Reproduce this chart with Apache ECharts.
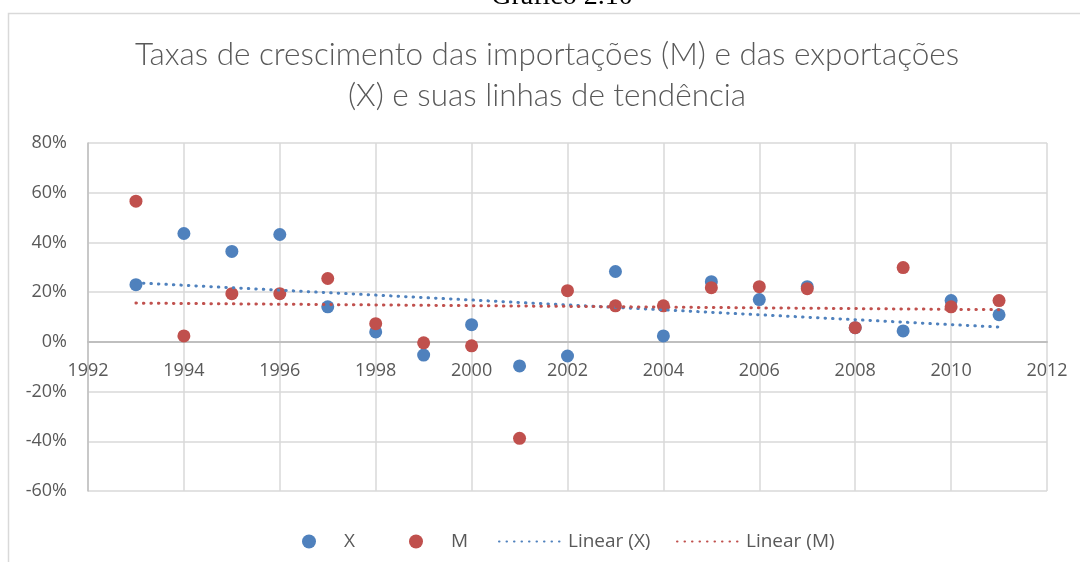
<!DOCTYPE html>
<html>
<head>
<meta charset="utf-8">
<script src="https://cdn.jsdelivr.net/npm/echarts@6/dist/echarts.min.js"></script>
<style>
html,body{margin:0;padding:0;background:#fff;}
#chart{width:1080px;height:562px;}
</style>
</head>
<body>
<div id="chart"></div>
<script>
// Data (growth rates, %)
const years = [1993,1994,1995,1996,1997,1998,1999,2000,2001,2002,2003,2004,2005,2006,2007,2008,2009,2010,2011];
const exportsX = [23.0,43.6,36.4,43.2,14.1,4.0,-5.3,6.9,-9.7,-5.7,28.3,2.4,24.2,17.0,22.2,5.7,4.4,16.6,10.9];
const importsM = [56.6,2.4,19.4,19.4,25.5,7.3,-0.4,-1.6,-38.8,20.6,14.5,14.5,21.8,22.2,21.4,5.7,29.9,14.1,16.6];
const seriesNames = ['X','M','Linear (X)','Linear (M)'];
const titleLines = ['Taxas de crescimento das importações (M) e das exportações','(X) e suas linhas de tendência'];
const captionText = 'Gráfico 2.10';
const xRange = [1992, 2012, 2];
const yRange = [-60, 80, 20];

const BLUE = '#4F81BD';
const RED = '#C0504D';
const FONT = 'Open Sans';

function linFit(xs, ys) {
  const n = xs.length;
  let sx=0, sy=0, sxx=0, sxy=0;
  for (let i=0;i<n;i++){ sx+=xs[i]; sy+=ys[i]; sxx+=xs[i]*xs[i]; sxy+=xs[i]*ys[i]; }
  const b = (n*sxy - sx*sy)/(n*sxx - sx*sx);
  const a = (sy - b*sx)/n;
  const x0 = xs[0], x1 = xs[n-1];
  return [[x0, a+b*x0],[x1, a+b*x1]];
}

const ptsX = years.map((y,i)=>[y, exportsX[i]]);
const ptsM = years.map((y,i)=>[y, importsM[i]]);

const GRID = {left:88, right:33, top:143, bottom:71};
const gridH = 562 - GRID.top - GRID.bottom;
// place the year axis on the 0% line (as in the spreadsheet chart)
const xAxisOffset = -gridH * (0 - yRange[0]) / (yRange[1] - yRange[0]);

const legendText = {fontFamily:FONT, fontSize:19, color:'#595959'};
function scatterLegend(name, left) {
  return {data:[name], left:left, top:527, itemWidth:14, itemHeight:14, selectedMode:false,
    textStyle:Object.assign({padding:[0,0,0,23]}, legendText)};
}
function lineLegend(name, left) {
  return {data:[name], left:left, top:527, itemWidth:64, itemHeight:14, selectedMode:false,
    itemStyle:{opacity:0},
    textStyle:Object.assign({padding:[0,0,0,0]}, legendText)};
}

const chart = echarts.init(document.getElementById('chart'), null, {renderer:'canvas'});
chart.setOption({
  animation:false,
  backgroundColor:'#fff',
  graphic:[
    {type:'rect', shape:{x:8.5,y:13.5,width:1200,height:700}, style:{fill:'none', stroke:'#d9d9d9', lineWidth:1.5}, silent:true, z:-10},
    {type:'text', x:562, y:11, style:{text:captionText, font:'28px "Liberation Serif"', fill:'#000', align:'center', verticalAlign:'bottom'}, silent:true}
  ],
  title:{
    text: titleLines.join('\n'),
    left: 542, top: 29.5, textAlign:'center',
    textStyle:{fontFamily:'Lato', fontWeight:300, fontSize:31.5, color:'#595959', lineHeight:41}
  },
  legend:[
    scatterLegend(seriesNames[0], 297),
    scatterLegend(seriesNames[1], 404),
    lineLegend(seriesNames[2], 493),
    lineLegend(seriesNames[3], 671)
  ],
  grid:Object.assign({containLabel:false}, GRID),
  xAxis:{
    type:'value', min:xRange[0], max:xRange[1], interval:xRange[2],
    position:'bottom', offset:xAxisOffset,
    axisLine:{onZero:false, lineStyle:{color:'#bfbfbf', width:2}},
    axisTick:{show:false},
    axisLabel:{fontFamily:FONT, fontSize:18, color:'#595959', margin:20, formatter:v=>String(v)},
    splitLine:{show:true, lineStyle:{color:'#d9d9d9', width:1.5}}
  },
  yAxis:{
    type:'value', min:yRange[0], max:yRange[1], interval:yRange[2],
    axisLine:{show:true, lineStyle:{color:'#bfbfbf', width:1.5}},
    axisTick:{show:false},
    axisLabel:{fontFamily:FONT, fontSize:18, color:'#595959', margin:21, formatter:'{value}%'},
    splitLine:{show:true, lineStyle:{color:'#d9d9d9', width:1.5}}
  },
  series:[
    {name:seriesNames[0], type:'scatter', data:ptsX, symbol:'circle', symbolSize:13, itemStyle:{color:BLUE, opacity:1}, z:3},
    {name:seriesNames[1], type:'scatter', data:ptsM, symbol:'circle', symbolSize:13, itemStyle:{color:RED, opacity:1}, z:4},
    {name:seriesNames[2], type:'line', data:linFit(years, exportsX), showSymbol:false, symbol:'none',
      lineStyle:{color:BLUE, width:3, type:[0.5,7], cap:'round'}, itemStyle:{color:BLUE}, z:5},
    {name:seriesNames[3], type:'line', data:linFit(years, importsM), showSymbol:false, symbol:'none',
      lineStyle:{color:RED, width:3, type:[0.5,7], cap:'round'}, itemStyle:{color:RED}, z:5}
  ]
});
</script>
</body>
</html>
